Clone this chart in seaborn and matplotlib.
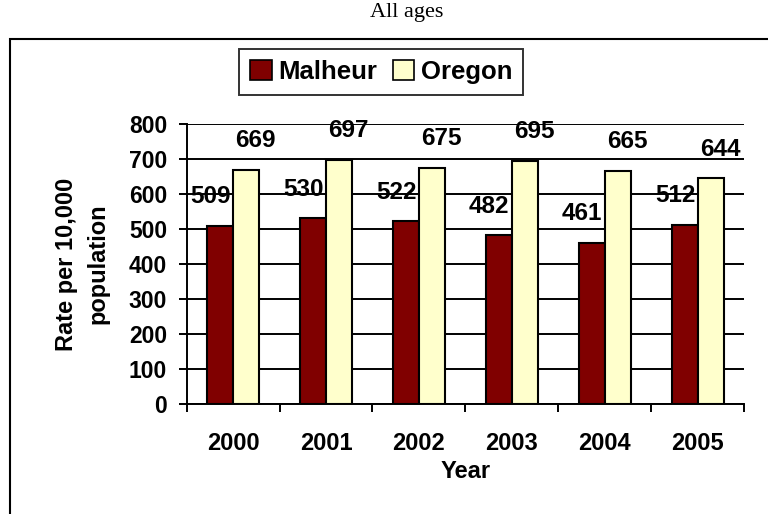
import matplotlib
matplotlib.use("Agg")
import matplotlib.pyplot as plt
import seaborn as sns
import pandas as pd
from matplotlib.patches import Rectangle

years = ["2000", "2001", "2002", "2003", "2004", "2005"]
malheur = [509, 530, 522, 482, 461, 512]
oregon = [669, 697, 675, 695, 665, 644]
series = ["Malheur", "Oregon"]
colors = ["#800000", "#FFFFCC"]

df = pd.DataFrame({
    "year": years * 2,
    "rate": malheur + oregon,
    "area": ["Malheur"] * len(years) + ["Oregon"] * len(years),
})

sns.set_style("white")
plt.rcParams["font.family"] = ["Liberation Sans", "DejaVu Sans"]
plt.rcParams["text.color"] = "black"
plt.rcParams["axes.labelcolor"] = "black"
plt.rcParams["xtick.color"] = "black"
plt.rcParams["ytick.color"] = "black"

fig = plt.figure(figsize=(7.68, 5.14), dpi=100)
ax = fig.add_axes([0.243, 0.214, 0.726, 0.545])

sns.barplot(data=df, x="year", y="rate", hue="area", hue_order=series,
            palette=colors, width=0.56, edgecolor="black", linewidth=1.5,
            ax=ax, zorder=3, saturation=1)

# data labels (offsets in points: ~10 px sideways, ~29 px up)
for cont, dx in zip(ax.containers, [-7, 7]):
    for bar in cont:
        h = bar.get_height()
        ax.annotate(f"{h:.0f}", (bar.get_x() + bar.get_width() / 2, h),
                    xytext=(dx, 21), textcoords="offset points",
                    ha="center", va="center", fontsize=17.5, fontweight="bold",
                    zorder=5)

ax.set_ylim(0, 800)
ax.set_yticks(range(0, 801, 100))
ax.set_xlim(-0.5, len(years) - 0.5)
ax.grid(axis="y", color="black", linewidth=1.4, zorder=0)
ax.set_axisbelow(True)
for s in ["top", "right"]:
    ax.spines[s].set_visible(False)
for s in ["left", "bottom"]:
    ax.spines[s].set_color("black")
    ax.spines[s].set_linewidth(1.4)

ax.set_xticks([i - 0.5 for i in range(len(years) + 1)], minor=True)
ax.tick_params(axis="x", which="major", length=0, pad=20, labelsize=17)
ax.tick_params(axis="x", which="minor", length=6, width=1.4, color="black",
               direction="out", bottom=True)
ax.tick_params(axis="y", length=6, width=1.4, color="black", direction="out",
               left=True, labelsize=16.5, pad=8)
for lab in ax.get_xticklabels() + ax.get_yticklabels():
    lab.set_fontweight("bold")

ax.set_xlabel("Year", fontsize=17, fontweight="bold", labelpad=4)
ax.set_ylabel("Rate per 10,000\npopulation", fontsize=17, fontweight="bold",
              labelpad=14, linespacing=1.45)

ax.legend(loc="center", bbox_to_anchor=(0.349, 1.186), ncol=2, frameon=True,
          fancybox=False, edgecolor="black",
          prop={"weight": "bold", "size": 18.5}, handlelength=0.85,
          handleheight=0.85, handletextpad=0.25, columnspacing=0.6,
          borderpad=0.42, borderaxespad=0)
ax.get_legend().get_frame().set_linewidth(1.4)
for h in ax.get_legend().legend_handles:
    h.set_edgecolor("black")
    h.set_linewidth(1.2)

fig.text(0.529, 0.975, "All ages", ha="center", va="center", fontsize=16,
         family=["Liberation Serif", "DejaVu Serif"])
fig.patches.append(Rectangle((0.013, -0.1), 1.1, 1.024, transform=fig.transFigure,
                             fill=False, edgecolor="black", linewidth=1.5))

fig.savefig("out.png", dpi=100, facecolor="white")
